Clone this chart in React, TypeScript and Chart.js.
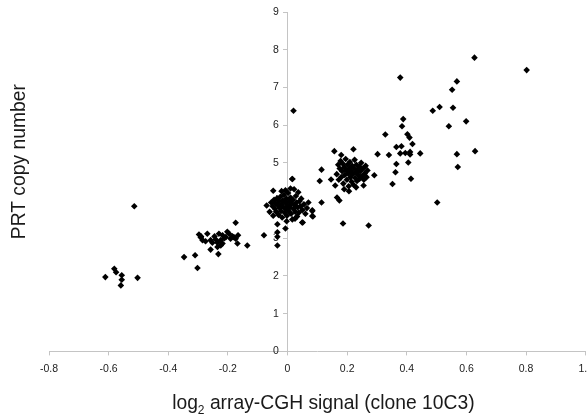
import React, { useEffect, useRef } from "react";
import { Chart, registerables } from "chart.js";

Chart.register(...registerables);

// Outlier group near -0.55
const lowX = [-0.611, -0.581, -0.575, -0.556, -0.556, -0.559, -0.503, -0.514];
const lowY = [1.97, 2.19, 2.10, 2.02, 1.90, 1.75, 1.95, 3.85];

// Group around -0.25
const midLowX = [-0.347, -0.310, -0.302, -0.297, -0.291, -0.285, -0.269, -0.258, -0.241, -0.224, -0.235, -0.252, -0.258, -0.230, -0.218, -0.207, -0.235, -0.224, -0.218, -0.232, -0.202, -0.196, -0.191, -0.185, -0.180, -0.174, -0.174, -0.168, -0.166, -0.135, -0.079, -0.290, -0.275, -0.212, -0.245];
const midLowY = [2.50, 2.55, 2.21, 3.10, 3.02, 2.95, 3.12, 2.95, 2.97, 2.95, 2.88, 2.88, 2.70, 3.12, 3.08, 3.03, 2.77, 2.81, 2.86, 2.58, 3.17, 3.12, 2.99, 3.05, 3.03, 3.41, 2.99, 2.86, 3.08, 2.81, 3.08, 3.05, 2.92, 3.00, 3.05];

// Central group around 0
const centerX = [-0.034, -0.034, -0.034, -0.034, -0.007, 0.049, 0.083, 0.085, -0.048, -0.070, 0.016, -0.007,
  -0.055, -0.050, -0.045, -0.042, -0.040, -0.038, -0.035, -0.033, -0.030, -0.028, -0.026, -0.024, -0.022, -0.020, -0.018, -0.016, -0.014, -0.012, -0.010, -0.008, -0.006, -0.004, -0.002, 0.000, 0.002, 0.004, 0.006, 0.008, 0.010, 0.012, 0.014, 0.016, 0.018, 0.020, 0.022, 0.024, 0.026, 0.028, 0.030, 0.032, 0.034, 0.036, 0.038, 0.040, 0.043, 0.046, 0.050, 0.055, 0.060, 0.065, -0.060, -0.048, -0.020, 0.010, -0.003, 0.025, 0.070];
const centerY = [3.37, 3.16, 3.04, 2.81, 3.26, 3.42, 3.72, 3.58, 4.26, 3.87, 4.57, 4.27,
  3.95, 3.85, 4.02, 3.78, 3.92, 3.70, 4.05, 3.88, 3.62, 3.98, 3.80, 4.10, 3.72, 3.90, 3.55, 4.00, 3.83, 4.15, 3.68, 3.95, 3.78, 4.05, 3.60, 3.88, 4.20, 3.72, 3.98, 3.82, 4.08, 3.65, 3.92, 3.50, 4.02, 3.78, 4.30, 3.88, 3.70, 4.12, 3.95, 3.58, 3.82, 4.22, 3.68, 3.98, 3.85, 4.05, 3.75, 3.90, 3.65, 3.80, 3.70, 3.60, 4.25, 4.32, 3.45, 3.52, 3.95];

// Group around 0.2
const midHighX = [0.114, 0.108, 0.114, 0.157, 0.221, 0.180, 0.186, 0.272, 0.174, 0.166, 0.146, 0.206, 0.291,
  0.165, 0.170, 0.172, 0.175, 0.178, 0.180, 0.183, 0.185, 0.187, 0.190, 0.192, 0.195, 0.197, 0.199, 0.201, 0.203, 0.205, 0.207, 0.209, 0.211, 0.213, 0.215, 0.217, 0.219, 0.221, 0.223, 0.225, 0.227, 0.229, 0.231, 0.233, 0.235, 0.237, 0.240, 0.242, 0.244, 0.247, 0.250, 0.253, 0.256, 0.259, 0.262, 0.265, 0.268, 0.160, 0.190, 0.230, 0.255];
const midHighY = [4.82, 4.52, 3.95, 5.31, 5.36, 5.21, 3.39, 3.34, 4.00, 4.08, 4.56, 4.25, 4.67,
  4.70, 4.95, 4.55, 4.85, 5.05, 4.62, 4.78, 4.98, 4.45, 4.88, 4.68, 5.10, 4.80, 4.55, 4.95, 4.72, 4.38, 4.85, 5.02, 4.62, 4.78, 4.50, 4.92, 4.70, 4.42, 4.85, 5.08, 4.60, 4.75, 4.95, 4.52, 4.82, 4.68, 4.90, 4.58, 4.78, 5.00, 4.65, 4.85, 4.55, 4.72, 4.92, 4.62, 4.80, 4.40, 4.30, 4.35, 4.40];

// Upper/right scattered group
const highX = [0.020, 0.627, 0.802, 0.378, 0.568, 0.552, 0.487, 0.510, 0.555, 0.388, 0.384, 0.541, 0.599, 0.328, 0.402, 0.409, 0.419, 0.365, 0.382, 0.302, 0.340, 0.378, 0.395, 0.411, 0.411, 0.445, 0.568, 0.629, 0.365, 0.405, 0.571, 0.362, 0.414, 0.352, 0.502, 0.016, 0.051, 0.083, 0.083];
const highY = [6.38, 7.79, 7.46, 7.26, 7.16, 6.94, 6.38, 6.48, 6.46, 6.16, 5.97, 5.97, 6.10, 5.75, 5.76, 5.67, 5.50, 5.42, 5.44, 5.23, 5.21, 5.25, 5.26, 5.22, 5.29, 5.25, 5.23, 5.31, 4.97, 5.01, 4.89, 4.75, 4.58, 4.44, 3.95, 4.57, 3.42, 3.74, 3.59];

const xTitleMain = "log";
const xTitleSub = "2";
const xTitleRest = " array-CGH signal (clone 10C3)";
const yTitle = "PRT copy number";

const xMin = -0.8, xMax = 1, xStep = 0.2;
const yMin = 0, yMax = 9, yStep = 1;

function pairs(xs: number[], ys: number[]) {
  return xs.map((x, i) => ({ x, y: ys[i] }));
}

const FONT = '"Liberation Sans", Arial, sans-serif';

const titlesPlugin = {
  id: "axisTitles",
  afterDraw(chart: any) {
    const ctx: CanvasRenderingContext2D = chart.ctx;
    const ca = chart.chartArea;
    ctx.save();
    ctx.fillStyle = "#1a1a1a";
    const big = `19.3px ${FONT}`;
    const small = `12px ${FONT}`;
    ctx.font = big;
    const w1 = ctx.measureText(xTitleMain).width;
    const w3 = ctx.measureText(xTitleRest).width;
    ctx.font = small;
    const w2 = ctx.measureText(xTitleSub).width;
    const total = w1 + w2 + w3;
    const cx = (ca.left + ca.right) / 2 + 6;
    const baseY = ca.bottom + 58;
    let x = cx - total / 2;
    ctx.textBaseline = "alphabetic";
    ctx.textAlign = "left";
    ctx.font = big;
    ctx.fillText(xTitleMain, x, baseY);
    x += w1;
    ctx.font = small;
    ctx.fillText(xTitleSub, x, baseY + 5);
    x += w2;
    ctx.font = big;
    ctx.fillText(xTitleRest, x, baseY);
    ctx.translate(ca.left - 29, (ca.top + ca.bottom) / 2 - 20);
    ctx.rotate(-Math.PI / 2);
    ctx.textAlign = "center";
    ctx.textBaseline = "middle";
    ctx.font = big;
    ctx.fillText(yTitle, 0, 0);
    ctx.restore();
  },
};

export default function App() {
  const ref = useRef<HTMLCanvasElement | null>(null);
  useEffect(() => {
    document.body.style.margin = "0";
    if (!ref.current) return;
    const tickFont = { family: FONT, size: 10.5 };
    const axisColor = "#c4c4c4";
    const chart = new Chart(ref.current, {
      type: "scatter",
      data: {
        datasets: [
          {
            data: [
              ...pairs(lowX, lowY),
              ...pairs(midLowX, midLowY),
              ...pairs(centerX, centerY),
              ...pairs(midHighX, midHighY),
              ...pairs(highX, highY),
            ],
            pointStyle: "rectRot",
            pointRadius: 3.3,
            pointHoverRadius: 3.3,
            backgroundColor: "#000",
            borderColor: "#000",
            borderWidth: 0,
          },
        ],
      },
      options: {
        responsive: false,
        animation: false,
        layout: { padding: { left: 49, right: 13, top: 12, bottom: 36 } },
        plugins: { legend: { display: false }, tooltip: { enabled: false } },
        scales: {
          x: {
            type: "linear",
            min: xMin,
            max: xMax,
            position: "bottom",
            ticks: { stepSize: xStep, font: tickFont, color: "#222", padding: 7 },
            grid: { drawOnChartArea: false, drawTicks: true, tickLength: 4, color: axisColor },
            border: { color: axisColor, width: 1 },
          },
          y: {
            type: "linear",
            min: yMin,
            max: yMax,
            position: { x: 0 } as any,
            ticks: {
              stepSize: yStep,
              font: tickFont,
              color: "#222",
              callback: (v: any) => `${v}   `,
            },
            grid: { drawOnChartArea: false, drawTicks: true, tickLength: 4, color: axisColor },
            border: { color: axisColor, width: 1 },
          },
        },
      },
      plugins: [titlesPlugin],
    });
    return () => chart.destroy();
  }, []);
  return (
    <div style={{ width: 587, height: 418, overflow: "hidden", position: "relative" }}>
      <canvas ref={ref} width={600} height={418} style={{ display: "block", width: 600, height: 418 }} />
    </div>
  );
}
